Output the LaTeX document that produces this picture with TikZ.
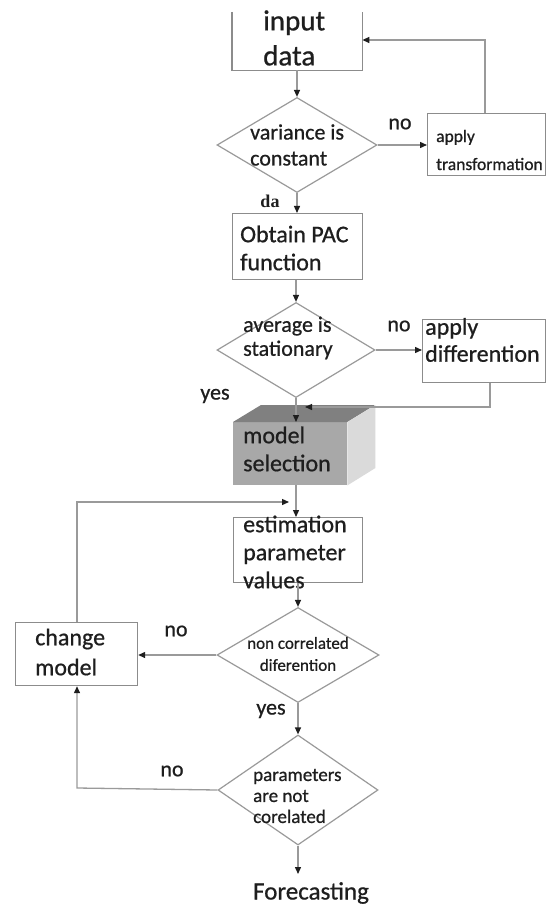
\documentclass[tikz,border=0pt]{standalone}
\usepackage{fontspec}
\setmainfont{Carlito}[FakeBold=0.7]
\newfontfamily\serifda{Liberation Serif}
\usetikzlibrary{shapes.geometric,arrows.meta}
\definecolor{linegray}{HTML}{9A9A9A}
\definecolor{boxgray}{HTML}{8C8C8C}
\definecolor{txt}{HTML}{1E1E1E}
\definecolor{frontgray}{HTML}{A8A8A8}
\definecolor{topgray}{HTML}{808080}
\definecolor{sidegray}{HTML}{DADADA}
\tikzset{
  box/.style={draw=boxgray, line width=1.2pt, inner sep=0pt, anchor=north west},
  dec/.style={diamond, draw=linegray, line width=1.2pt, inner sep=0pt},
  lbl/.style={text=txt, inner sep=0pt, align=left, anchor=west},
  big/.style={font=\fontsize{24}{28}\selectfont},
  conn/.style={draw=linegray, line width=1.3pt, -{Triangle[length=7pt,width=6pt,color=txt]}},
}
\begin{document}
\begin{tikzpicture}[x=1pt,y=-1pt]
\useasboundingbox[fill=white] (0,0) rectangle (550,909);
% input data
\node[inner sep=0pt, minimum width=130pt, minimum height=58pt, anchor=north west] (in) at (232,12) {};
\draw[draw=boxgray, line width=1.2pt] (in.north west) -- (in.south west) -- (in.south east) -- (in.north east);
\node[lbl, font=\fontsize{29}{35}\selectfont] (tin) at (263,38) {input\\data};
% diamond 1
\node[dec, minimum width=160pt, minimum height=95pt] (d1) at (297,145) {};
\node[lbl, font=\fontsize{22}{26}\selectfont] (td1) at (250,145) {variance is\\constant};
% apply transformation
\node[box, minimum width=118pt, minimum height=62pt] (tr) at (427,113) {};
\node[lbl, font=\fontsize{17.5}{28}\selectfont] (ttr) at (436,150) {apply\\transformation};
% obtain PAC
\node[box, minimum width=130pt, minimum height=66pt] (pac) at (232,213) {};
\node[lbl, big] (tpac) at (240,248) {Obtain PAC\\function};
% diamond 2
\node[dec, minimum width=158pt, minimum height=95pt] (d2) at (296,350) {};
\node[lbl, font=\fontsize{22}{24}\selectfont] (td2) at (243,338) {average is\\stationary};
% apply differention
\node[box, minimum width=123pt, minimum height=63pt] (df) at (422,319) {};
\node[lbl, font=\fontsize{24}{27}\selectfont] (tdf) at (425,340) {apply\\differention};
% model selection (3D box)
\node[inner sep=0pt, minimum width=114pt, minimum height=63pt, anchor=north west, fill=frontgray] (ms) at (233,422) {};
\fill[topgray] (ms.north west) -- ++(28,-17) -- ++(114,0) -- (ms.north east) -- cycle;
\fill[sidegray] (ms.north east) -- ++(28,-17) -- ++(0,63) -- (ms.south east) -- cycle;
\node[lbl, big] (tms) at (243,449) {model\\selection};
% estimation
\node[box, minimum width=129pt, minimum height=65pt] (est) at (233,517) {};
\node[lbl, big] (test) at (243,552) {estimation\\parameter\\values};
% diamond 3
\node[dec, minimum width=162pt, minimum height=95pt] (d3) at (298,655) {};
\node[inner sep=0pt, text=txt, align=center, font=\fontsize{17}{22}\selectfont] (td3) at (298,654) {non correlated\\diferention};
% change model
\node[box, minimum width=122pt, minimum height=63pt] (cm) at (15,622) {};
\node[lbl, font=\fontsize{24}{30}\selectfont] (tcm) at (35,652) {change\\model};
% diamond 4
\node[dec, minimum width=160pt, minimum height=110pt] (d4) at (298,790) {};
\node[lbl, font=\fontsize{19}{21}\selectfont] (td4) at (253,796) {parameters\\are not\\corelated};
% forecasting
\node[inner sep=0pt, text=txt, font=\fontsize{25}{28}\selectfont] (fc) at (311,893) {Forecasting};
% labels
\node[text=txt, inner sep=0pt, font=\fontsize{22}{24}\selectfont] (no1) at (400,124) {no};
\node[text=txt, inner sep=0pt, font=\fontsize{18}{20}\bfseries\serifda] (da) at (270,201) {da};
\node[text=txt, inner sep=0pt, font=\fontsize{22}{24}\selectfont] (no2) at (399,326) {no};
\node[text=txt, inner sep=0pt, font=\fontsize{22}{24}\selectfont] (yes1) at (215,396) {yes};
\node[text=txt, inner sep=0pt, font=\fontsize{22}{24}\selectfont] (no3) at (176,631) {no};
\node[text=txt, inner sep=0pt, font=\fontsize{22}{24}\selectfont] (yes2) at (271,711) {yes};
\node[text=txt, inner sep=0pt, font=\fontsize{22}{24}\selectfont] (no4) at (172,771) {no};
% helper coordinates
\coordinate (c1) at (485,40);
\coordinate (c2) at (490,407);
\coordinate (c2e) at (305,407);
\coordinate (c3) at (77,502);
\coordinate (c3e) at (289,502);
\coordinate (c4) at (77,788);
% connectors
\draw[conn] (in.south -| d1.north) -- (d1.north);
\draw[conn] (d1.east) -- (tr.west |- d1.east);
\draw[conn] (tr.north -| c1) -- (c1) -- (c1 -| in.east);
\draw[conn] (d1.south) -- (pac.north -| d1.south);
\draw[conn] (pac.south -| d2.north) -- (d2.north);
\draw[conn] (d2.east) -- (df.west |- d2.east);
\draw[conn] (df.south -| c2) -- (c2) -- (c2e);
\draw[conn] (d2.south) -- (ms.north -| d2.south);
\draw[conn] (ms.south -| d2.south) -- (est.north -| d2.south);
\draw[conn] (cm.north -| c3) -- (c3) -- (c3e);
\draw[conn] (est.south -| d3.north) -- (d3.north);
\draw[conn] (d3.west) -- (cm.east |- d3.west);
\draw[conn] (d3.south) -- (d4.north);
\draw[conn] (d4.west) -- (c4) -- (cm.south -| c4);
\draw[conn] (d4.south) -- ([yshift=8pt]fc.north -| d4.south);
\end{tikzpicture}
\end{document}
